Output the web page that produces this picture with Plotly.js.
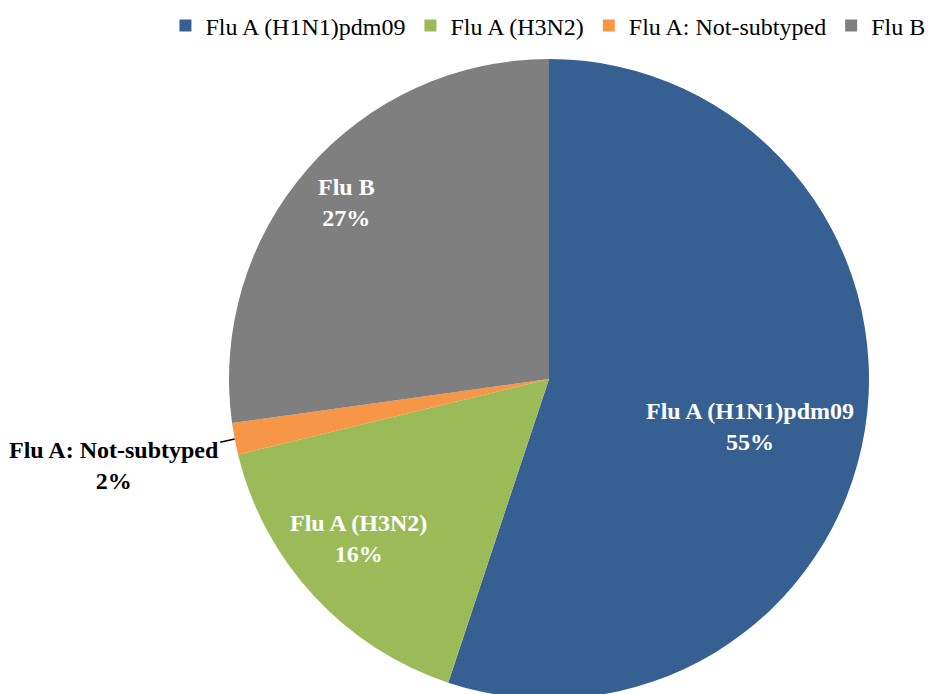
<!DOCTYPE html>
<html>
<head>
<meta charset="utf-8">
<script src="https://cdn.plot.ly/plotly-3.0.1.min.js"></script>
<style>
html,body{margin:0;padding:0;overflow:hidden;background:#fff;}
#chart{width:942px;height:700px;}
</style>
</head>
<body>
<div id="chart"></div>
<script>
const categories = ["Flu A (H1N1)pdm09", "Flu A (H3N2)", "Flu A: Not-subtyped", "Flu B"];
const values = [55.1, 16.1, 1.6, 27.2];
const colors = ["#376092", "#9BBB59", "#F79646", "#7F7F7F"];

const SERIF = "'Liberation Serif', 'Times New Roman', Times, serif";
// label placement per slice: fraction of radius and angular nudge (deg); small slice labelled outside
const labelRadius = [0.645, 0.777, null, 0.84];
const labelNudge = [4.0, 2.8, 0, 0];
const outsideIdx = 2;

const W = 942, H = 700, mt = 59, mb = 1, ml = 156, mr = 0;
const pw = W - ml - mr, ph = H - mt - mb;
const R = Math.min(pw, ph) / 2;

const trace = {
  type: "pie",
  labels: categories,
  values: values,
  sort: false,
  direction: "clockwise",
  rotation: 0,
  marker: {colors: colors, line: {width: 0}},
  textinfo: "none",
  hoverinfo: "label+percent",
  domain: {x: [0, 1], y: [0, 1]}
};

const total = values.reduce((a, b) => a + b, 0);
const annotations = [];
let cum = 0;
values.forEach((v, i) => {
  const mid = (cum + v / 2) / total * 2 * Math.PI;
  cum += v;
  const pct = Math.round(v / total * 100) + "%";
  const txt = "<b>" + categories[i] + "<br>" + pct + "</b>";
  if (i === outsideIdx) {
    annotations.push({
      x: 0.5 + R * Math.sin(mid) / pw,
      y: 0.5 + R * Math.cos(mid) / ph,
      xref: "paper", yref: "paper",
      text: txt,
      showarrow: true, arrowhead: 0, arrowwidth: 1.5, arrowcolor: "#000000",
      ax: -121, ay: 27,
      font: {family: SERIF, size: 24, color: "#000000"},
      align: "center"
    });
  } else {
    const a = mid + labelNudge[i] * Math.PI / 180;
    const r = labelRadius[i] * R;
    annotations.push({
      x: 0.5 + r * Math.sin(a) / pw,
      y: 0.5 + r * Math.cos(a) / ph,
      xref: "paper", yref: "paper",
      text: txt, showarrow: false,
      font: {family: SERIF, size: 24, color: "#ffffff"},
      align: "center", xanchor: "center", yanchor: "middle"
    });
  }
});

const layout = {
  width: W,
  height: H,
  margin: {t: mt, b: mb, l: ml, r: mr, pad: 0},
  paper_bgcolor: "#ffffff",
  font: {family: SERIF, color: "#000000"},
  showlegend: true,
  legend: {
    orientation: "h",
    x: 0.012,
    xanchor: "left",
    y: 0.995,
    yref: "container",
    yanchor: "top",
    font: {family: SERIF, size: 24, color: "#000000"},
    traceorder: "normal"
  },
  annotations: annotations
};

Plotly.newPlot("chart", [trace], layout, {displayModeBar: false, staticPlot: true});
</script>
</body>
</html>
